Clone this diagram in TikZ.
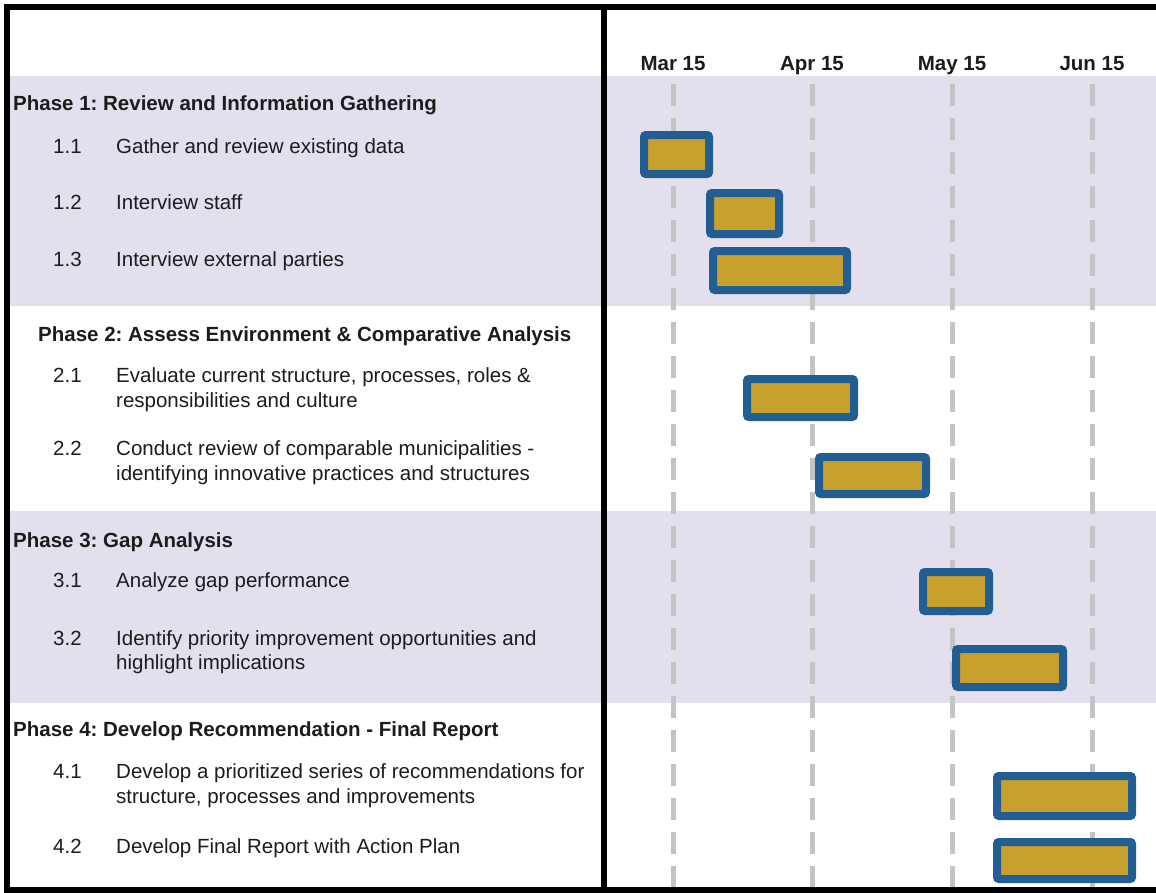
\documentclass[tikz,border=0pt]{standalone}
\usepackage{fontspec}
\setmainfont{Liberation Sans}
\frenchspacing
\usetikzlibrary{shadows}
\definecolor{band}{HTML}{E4DFEC}
\definecolor{barblue}{HTML}{235E92}
\definecolor{bargold}{HTML}{C8A02E}
\definecolor{gridgray}{HTML}{C4C4C4}
\definecolor{ink}{HTML}{1C1C1C}
\tikzset{
  heading/.style={anchor=base west, inner sep=0pt, font=\fontsize{20.5}{24}\selectfont\bfseries, text=ink},
  item/.style={anchor=base west, inner sep=0pt, font=\fontsize{20.5}{24}\selectfont, text=ink},
  month/.style={anchor=base, inner sep=0pt, font=\fontsize{20.5}{24}\selectfont\bfseries, text=ink},
  gridline/.style={draw=gridgray, line width=5pt, dash pattern=on 22pt off 12pt},
  bar/.style={draw=barblue, fill=bargold, line width=8pt, rounded corners=2pt, inner sep=0pt, outer sep=0pt,
    drop shadow={shadow xshift=1.5pt, shadow yshift=-1.5pt, opacity=0.2, fill=black}},
  frame/.style={draw=black, line width=6pt},
  stripe/.style={fill=band, draw=none}
}
\begin{document}
\begin{tikzpicture}[x=1pt, y=-1pt]
\useasboundingbox (0,0) rectangle (1156,892);
\fill[white] (0,0) rectangle (1156,892);

% shaded phase bands
\fill[stripe] (10,76) rectangle (1156,306);
\fill[stripe] (10,511) rectangle (1156,703);

% month grid lines
\foreach \gx/\nm in {673/mar, 812/apr, 952/may, 1092/jun}{
  \coordinate (\nm top) at (\gx,84);
  \coordinate (\nm bot) at (\gx,888);
  \draw[gridline] (\nm top) -- (\nm bot);
}

% month labels
\node[month] (lmar) at (673,70) {Mar 15};
\node[month] (lapr) at (812,70) {Apr 15};
\node[month] (lmay) at (952,70) {May 15};
\node[month] (ljun) at (1092,70) {Jun 15};

% task bars (x-centre, y-centre, width, height measured on the stroke)
\foreach \nm/\cx/\cy/\w/\h in {
  b11/676.5/154.5/65/39,
  b12/744.5/213.5/69/41,
  b13/780/270.5/134/39,
  b21/800.5/398/107/38,
  b22/872.5/475.5/107/37,
  b31/956/591.5/66/39,
  b32/1009.5/668/107/38,
  b41/1064.5/796/135/40,
  b42/1064.5/860.5/135/37}{
  \node[bar, minimum width=\w pt, minimum height=\h pt] (\nm) at (\cx,\cy) {};
}

% frame and divider
\coordinate (tl) at (4,7);
\coordinate (tr) at (1156,7);
\coordinate (lt) at (7,4);
\coordinate (lb) at (7,892);
\coordinate (bl) at (4,889.5);
\coordinate (br) at (1156,889.5);
\coordinate (dt) at (604,7);
\coordinate (db) at (604,889);
\draw[frame] (tl) -- (tr);
\draw[frame] (lt) -- (lb);
\draw[frame] (bl) -- (br);
\draw[frame] (dt) -- (db);

% Phase 1
\node[heading] (p1) at (13,110) {Phase 1: Review and Information Gathering};
\node[item] (n11) at (53,153) {1.1};
\node[item] (t11) at (116,153) {Gather and review existing data};
\node[item] (n12) at (53,209) {1.2};
\node[item] (t12) at (116,209) {Interview staff};
\node[item] (n13) at (53,266) {1.3};
\node[item] (t13) at (116,266) {Interview external parties};

% Phase 2
\node[heading] (p2) at (38,341) {Phase 2: Assess Environment \& Comparative Analysis};
\node[item] (n21) at (53,382) {2.1};
\node[item] (t21a) at (116,382) {Evaluate current structure, processes, roles \&};
\node[item] (t21b) at (116,407) {responsibilities and culture};
\node[item] (n22) at (53,455) {2.2};
\node[item] (t22a) at (116,455) {Conduct review of comparable municipalities -};
\node[item] (t22b) at (116,480) {identifying innovative practices and structures};

% Phase 3
\node[heading] (p3) at (13,547) {Phase 3: Gap Analysis};
\node[item] (n31) at (53,587) {3.1};
\node[item] (t31) at (116,587) {Analyze gap performance};
\node[item] (n32) at (53,645) {3.2};
\node[item] (t32a) at (116,645) {Identify priority improvement opportunities and};
\node[item] (t32b) at (116,669) {highlight implications};

% Phase 4
\node[heading] (p4) at (13,736) {Phase 4: Develop Recommendation - Final Report};
\node[item] (n41) at (53,778) {4.1};
\node[item] (t41a) at (116,778) {Develop a prioritized series of recommendations for};
\node[item] (t41b) at (116,803) {structure, processes and improvements};
\node[item] (n42) at (53,853) {4.2};
\node[item] (t42) at (116,853) {Develop Final Report with Action Plan};
\end{tikzpicture}
\end{document}
